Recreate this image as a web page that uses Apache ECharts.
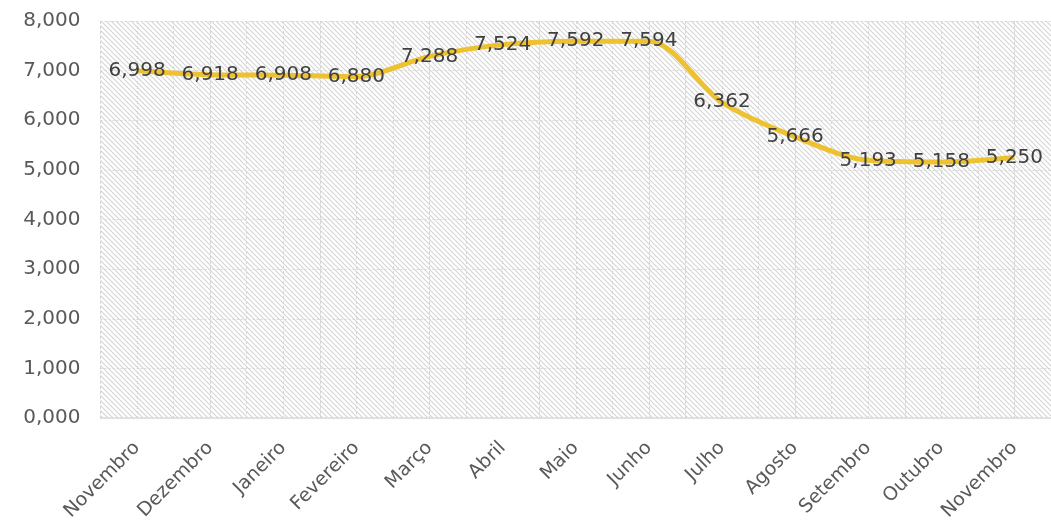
<!DOCTYPE html>
<html><head><meta charset="utf-8">
<script src="https://cdn.jsdelivr.net/npm/echarts@6/dist/echarts.min.js"></script>
<style>html,body{margin:0;padding:0;background:#fff}#c{width:1051px;height:529px}</style>
</head><body><div id="c"></div>
<script>
const categories = ['Novembro','Dezembro','Janeiro','Fevereiro','Março','Abril','Maio','Junho','Julho','Agosto','Setembro','Outubro','Novembro'];
const values = [6.998, 6.918, 6.908, 6.880, 7.288, 7.524, 7.592, 7.594, 6.362, 5.666, 5.193, 5.158, 5.250];
const yTicks = [0, 1, 2, 3, 4, 5, 6, 7, 8];

function fmt(v){ return Number(v).toFixed(3).replace('.', ','); }

// diagonal hatch pattern
const s = 5;
const cv = document.createElement('canvas');
cv.width = s; cv.height = s;
const ctx = cv.getContext('2d');
ctx.fillStyle = '#ffffff'; ctx.fillRect(0,0,s,s);
ctx.strokeStyle = '#d4d4d4'; ctx.lineWidth = 1.1;
[-s,0,s].forEach((x0)=>{
  ctx.beginPath(); ctx.moveTo(x0-1,-1); ctx.lineTo(x0+s+1,s+1); ctx.stroke();
});

const halfCats = [];
for (let i = 0; i < categories.length*2; i++) halfCats.push('');

const chart = echarts.init(document.getElementById('c'));
chart.setOption({
  animation: false,
  grid: { left: 100.5, top: 21, width: 955, bottom: 111, show: true, borderWidth: 0,
          backgroundColor: { image: cv, repeat: 'repeat' } },
  xAxis: [{
    type: 'category', data: categories, boundaryGap: true,
    axisLine: { show: true, lineStyle: { color: '#dcdcdc', width: 1.5 } },
    axisTick: { show: false },
    splitLine: { show: false },
    axisLabel: { rotate: 45, interval: 0, margin: 27, color: '#595959',
                 fontFamily: 'DejaVu Sans', fontSize: 19 }
  },{
    type: 'category', data: halfCats, boundaryGap: true, position: 'bottom',
    axisLine: { show: false }, axisTick: { show: false }, axisLabel: { show: false },
    splitLine: { show: true, interval: 0, lineStyle: { color: '#d6d6d6', width: 1, type: [3,2] } }
  }],
  yAxis: {
    type: 'value', min: yTicks[0], max: yTicks[yTicks.length-1], interval: 1,
    axisLine: { show: false }, axisTick: { show: false },
    splitLine: { show: true, lineStyle: { color: '#d6d6d6', width: 1, type: [2,2] } },
    axisLabel: { formatter: fmt, margin: 20, color: '#595959', fontFamily: 'DejaVu Sans', fontSize: 20 }
  },
  series: [{
    type: 'line', data: values, xAxisIndex: 0, smooth: 0.3,
    symbol: 'circle', symbolSize: 2, showSymbol: true,
    itemStyle: { color: 'rgba(0,0,0,0)', borderWidth: 0 },
    lineStyle: { color: '#EDC12F', width: 5 },
    label: { show: true, position: 'inside', formatter: p => fmt(p.value),
             color: '#404040', fontFamily: 'DejaVu Sans', fontSize: 20 },
    labelLayout: { hideOverlap: false }
  }]
});
</script></body></html>
